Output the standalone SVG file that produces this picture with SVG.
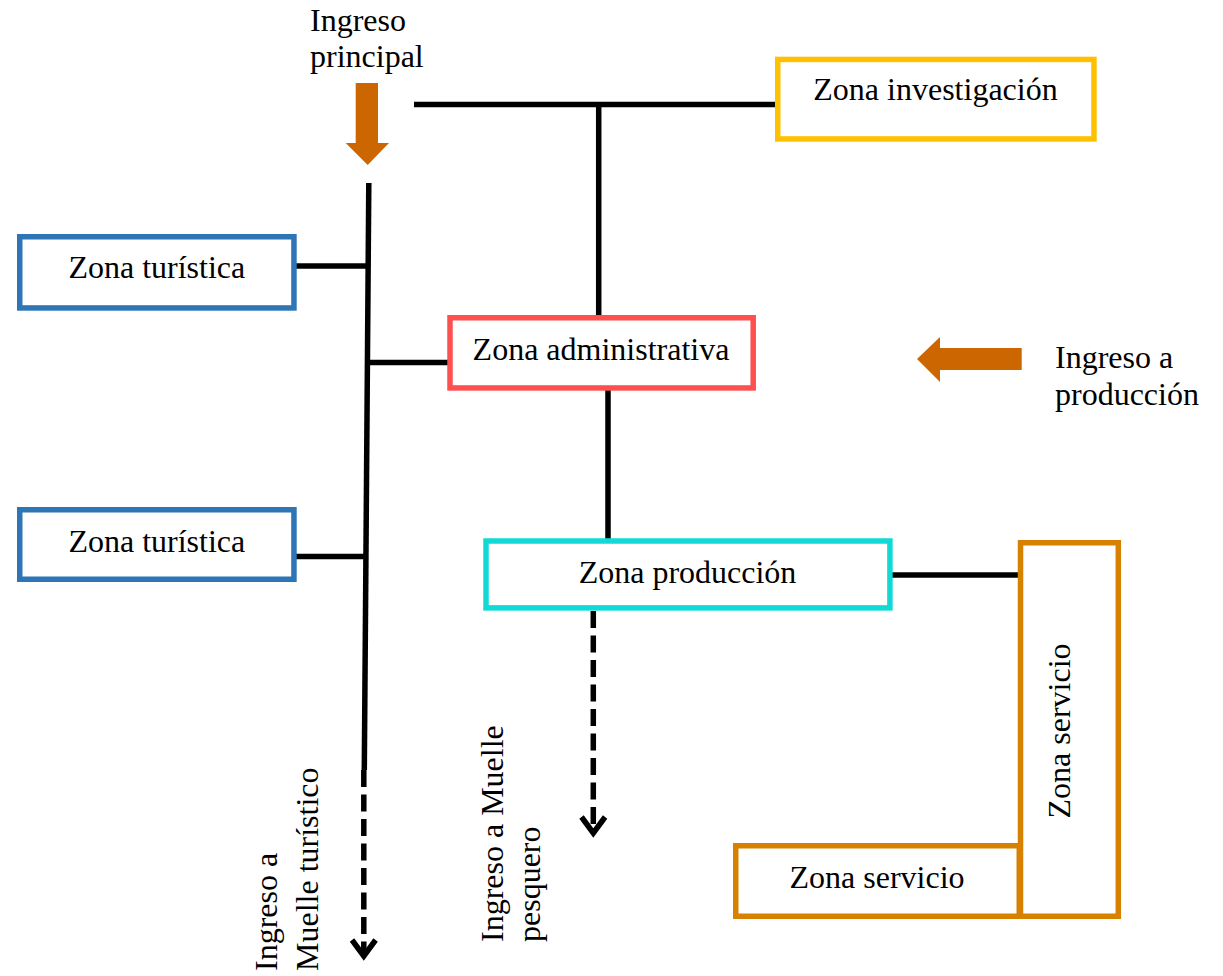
<svg xmlns="http://www.w3.org/2000/svg" width="1223" height="976" viewBox="0 0 1223 976">
  <style>
    text { font-family: "Liberation Serif", "Times New Roman", serif; font-size: 32px; fill: #000; }
    .box { fill: #fff; stroke-width: 5.5; }
    .mid { text-anchor: middle; }
    .tur { stroke: #2E75B6; }
    .inv { stroke: #FFC000; }
    .adm { stroke: #FF5050; }
    .pro { stroke: #10D9D6; }
    .ser { stroke: #D68100; }
    .ln { stroke: #000; stroke-width: 5.5; fill: none; }
    .dash { stroke: #000; stroke-width: 5.5; fill: none; stroke-dasharray: 17 7.5; }
    .chev { stroke: #000; stroke-width: 5.5; fill: none; stroke-linejoin: miter; stroke-linecap: butt; }
    .entry { fill: #CC6600; }
  </style>

  <!-- connectors -->
  <g id="connectors">
    <line class="ln" x1="414" y1="104.5" x2="776" y2="104.5"/>
    <line class="ln" x1="598.7" y1="104.5" x2="598.7" y2="315.5"/>
    <line class="ln" x1="368.8" y1="183" x2="364.3" y2="770"/>
    <line class="ln" x1="296" y1="266" x2="367.5" y2="266"/>
    <line class="ln" x1="367" y1="362.5" x2="448" y2="362.5"/>
    <line class="ln" x1="296" y1="556.5" x2="365.5" y2="556.5"/>
    <line class="ln" x1="608" y1="390" x2="608" y2="539"/>
    <line class="ln" x1="892" y1="575" x2="1018.5" y2="575"/>
    <!-- dashed exits to the piers -->
    <line class="dash" x1="363.8" y1="770" x2="363.8" y2="955"/>
    <polyline class="chev" points="352,940 363.8,956 375.6,940"/>
    <line class="dash" x1="593.3" y1="611" x2="593.3" y2="832"/>
    <polyline class="chev" points="581.5,817 593.3,833 605.1,817"/>
  </g>

  <!-- entry arrows -->
  <g id="ingreso-principal">
    <polygon class="entry" points="355.7,83 378,83 378,143 389,143 367.7,165 345.7,143 355.7,143"/>
    <text x="310" y="31">Ingreso</text>
    <text x="310" y="67">principal</text>
  </g>
  <g id="ingreso-produccion">
    <polygon class="entry" points="1021.7,348 1021.7,370 940,370 940,382 917,359 940,337 940,348"/>
    <text x="1055" y="368">Ingreso a</text>
    <text x="1055" y="405">producción</text>
  </g>

  <!-- zones -->
  <g id="zona-turistica-1">
    <rect class="box tur" x="19.75" y="236.75" width="274.2" height="71.2"/>
    <text class="mid" x="156.8" y="278">Zona turística</text>
  </g>
  <g id="zona-turistica-2">
    <rect class="box tur" x="19.75" y="509.75" width="274.2" height="69.5"/>
    <text class="mid" x="156.8" y="552">Zona turística</text>
  </g>
  <g id="zona-investigacion">
    <rect class="box inv" x="777.75" y="59.45" width="316.2" height="79.5"/>
    <text class="mid" x="935.5" y="100">Zona investigación</text>
  </g>
  <g id="zona-administrativa">
    <rect class="box adm" x="450" y="317.75" width="303.2" height="70.2"/>
    <text class="mid" x="601" y="360">Zona administrativa</text>
  </g>
  <g id="zona-produccion">
    <rect class="box pro" x="486" y="541" width="403.9" height="66.9"/>
    <text class="mid" x="687.5" y="583">Zona producción</text>
  </g>
  <g id="zona-servicio-horizontal">
    <rect class="box ser" x="735.75" y="845.75" width="283.5" height="70.5"/>
    <text class="mid" x="877" y="888">Zona servicio</text>
  </g>
  <g id="zona-servicio-vertical">
    <rect class="box ser" x="1020.5" y="542.75" width="97.8" height="373.5"/>
    <text class="mid" transform="translate(1070 731) rotate(-90)">Zona servicio</text>
  </g>

  <!-- pier access labels -->
  <g id="muelle-turistico">
    <text transform="translate(277 971) rotate(-90)">Ingreso a</text>
    <text transform="translate(318 971) rotate(-90)">Muelle turístico</text>
  </g>
  <g id="muelle-pesquero">
    <text transform="translate(503 942) rotate(-90)">Ingreso a Muelle</text>
    <text transform="translate(540 942) rotate(-90)">pesquero</text>
  </g>
</svg>
